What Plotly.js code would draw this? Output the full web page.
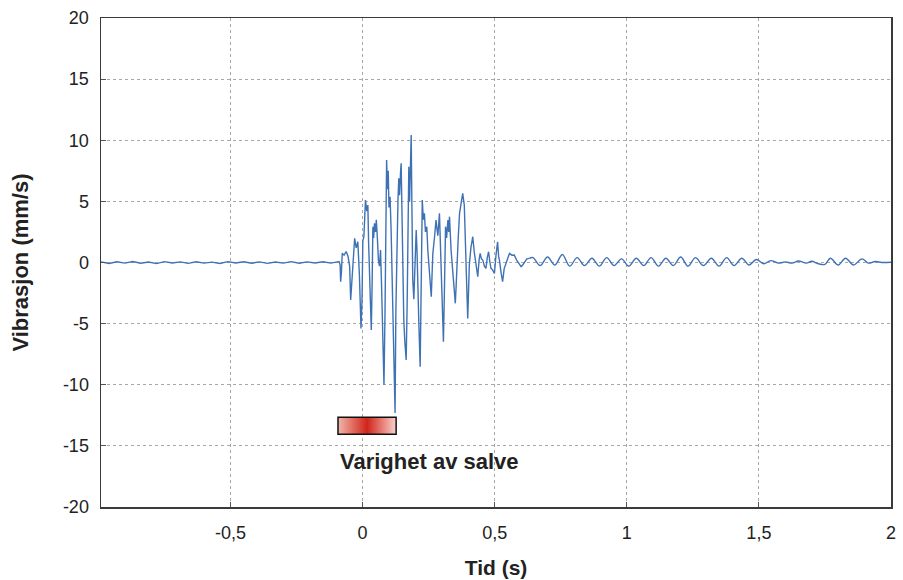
<!DOCTYPE html>
<html>
<head>
<meta charset="utf-8">
<script src="https://cdn.plot.ly/plotly-3.0.1.min.js"></script>
<style>html,body{margin:0;padding:0;background:#fff}#chart{width:903px;height:580px}</style>
</head>
<body>
<div id="chart"></div>
<script>
// Pre-trigger (quiet) segment
var tPre = [-0.99,-0.96,-0.93,-0.90,-0.87,-0.84,-0.81,-0.78,-0.75,-0.72,-0.69,-0.66,-0.63,-0.60,-0.57,-0.54,-0.51,-0.48,-0.45,-0.42,-0.39,-0.36,-0.33,-0.30,-0.27,-0.24,-0.21,-0.18,-0.15,-0.12,-0.095];
var vPre = [0.05,-0.08,0.06,-0.05,0.08,-0.06,0.04,-0.09,0.07,-0.04,0.05,-0.07,0.06,-0.05,0.03,-0.08,0.07,-0.04,0.06,-0.06,0.05,-0.07,0.04,-0.05,0.07,-0.06,0.05,-0.04,0.06,-0.05,0.05];

// Blast burst segment
var tBurst = [-0.089,-0.085,-0.083,-0.080,-0.077,-0.070,-0.062,-0.055,-0.049,-0.045,-0.040,-0.034,-0.030,-0.024,-0.018,-0.012,-0.006,-0.002,0.001,0.005,0.008,0.011,0.016,0.020,0.023,0.026,0.030,0.033,0.036,0.039,0.042,0.045,0.049,0.052,0.056,0.060,0.064,0.068,0.072,0.077,0.081,0.085,0.088,0.091,0.094,0.097,0.100,0.104,0.108,0.112,0.116,0.120,0.123,0.126,0.130,0.134,0.137,0.140,0.144,0.146,0.150,0.152,0.156,0.160,0.165,0.169,0.172,0.175,0.178,0.184,0.187,0.190,0.194,0.198,0.203,0.206,0.209,0.213,0.218,0.222,0.226,0.230,0.234,0.238,0.243,0.247,0.253,0.256,0.260,0.263,0.266,0.272,0.278,0.282,0.285,0.291,0.294,0.297,0.302,0.306,0.310,0.314,0.318,0.323,0.326,0.329,0.335,0.341,0.346,0.351,0.354,0.358,0.362,0.367,0.373,0.379,0.385,0.389,0.392,0.395,0.398,0.401,0.404,0.410,0.417,0.423,0.430,0.436,0.441,0.445,0.450,0.455,0.461,0.467,0.472,0.477,0.482,0.486,0.492,0.499,0.505,0.511,0.515,0.518,0.524,0.530,0.536,0.543,0.550,0.556,0.565,0.574,0.583,0.593,0.600,0.606,0.615,0.622,0.631];
var vBurst = [0.07,-0.2,-1.57,-0.8,0.75,0.6,0.9,0.5,-0.3,-3.07,-1.5,0.9,1.98,1.2,1.7,-1.0,-5.4,-3.0,1.8,2.11,3.5,5.11,4.2,4.7,1.5,-0.61,-3.5,-5.52,-2.0,2.93,2.0,3.2,2.5,3.5,2.0,0.2,-0.3,1.02,-2.0,-6.0,-10.0,-4.0,2.0,8.38,6.0,7.5,4.5,5.38,2.66,-1.43,-6.0,-9.0,-12.3,-4.0,2.5,5.11,6.88,5.5,7.5,8.11,3.0,-1.0,-4.7,-6.5,-7.97,-3.0,2.0,7.84,5.0,10.43,4.0,-1.43,-3.0,0.5,2.66,1.0,-0.89,-5.0,-8.52,-2.0,5.11,3.5,4.02,2.5,2.93,1.0,-0.5,-1.5,-2.8,-1.0,0.75,2.0,3.48,2.66,2.2,4.02,1.5,-0.61,-4.0,-6.48,-2.0,2.93,2.0,3.48,2.5,3.75,1.0,-0.89,-2.5,-3.34,-2.0,0.75,2.0,4.02,4.8,5.66,4.7,1.0,-0.61,-2.5,-4.57,-2.0,-0.2,1.2,2.11,0.8,-0.34,-1.16,0.2,0.75,0.3,0.2,-0.3,-0.48,0.4,0.88,0.0,-0.48,-0.6,-0.89,0.6,1.7,0.5,0.2,-0.8,-1.57,-0.5,-0.07,0.5,0.75,0.6,0.61,0.2,-0.07,-0.34,-0.2,0.1,0.3,0.34];

// Decaying tail segment
var tTail = [0.631,0.645,0.672,0.700,0.728,0.756,0.784,0.812,0.840,0.868,0.896,0.924,0.952,0.980,1.008,1.036,1.064,1.092,1.120,1.148,1.176,1.204,1.232,1.260,1.290,1.320,1.349,1.378,1.406,1.435,1.463,1.490,1.518,1.545,1.575,1.600,1.625,1.650,1.680,1.700,1.725,1.750,1.771,1.800,1.828,1.858,1.890,1.915,1.940,1.965,2.0];
var vTail = [0.34,0.40,-0.25,0.45,-0.20,0.65,-0.30,0.40,-0.25,0.35,-0.30,0.40,-0.25,0.30,-0.30,0.35,-0.25,0.40,-0.30,0.35,-0.25,0.45,-0.30,0.40,-0.25,0.35,-0.30,0.40,-0.25,0.35,-0.20,0.25,-0.10,0.15,-0.05,0.05,-0.05,0.12,-0.05,0.10,-0.10,-0.15,0.35,-0.20,0.35,-0.20,0.30,-0.05,0.08,0.0,0.02];

var xTickVals = [-0.5, 0, 0.5, 1, 1.5, 2];
var xTickText = ['-0,5', '0', '0,5', '1', '1,5', '2'];
var yTickVals = [-20, -15, -10, -5, 0, 5, 10, 15, 20];
var yTickText = ['-20', '-15', '-10', '-5', '0', '5', '10', '15', '20'];

var xTitle = 'Tid (s)';
var yTitle = 'Vibrasjon (mm/s)';
var burstLabel = 'Varighet av salve';
var burstStart = -0.093, burstEnd = 0.127;
var barTop = -12.66, barBottom = -14.05;

var font = 'Liberation Sans, Arial, sans-serif';
var lineStyle = {color: '#3f72b5', width: 1.4};

var svg = '<svg xmlns="http://www.w3.org/2000/svg" width="100" height="20" preserveAspectRatio="none">' +
  '<defs><linearGradient id="g" x1="0" x2="1" y1="0" y2="0">' +
  '<stop offset="0" stop-color="#f2b6aa"/>' +
  '<stop offset="0.5" stop-color="#d0251b"/>' +
  '<stop offset="1" stop-color="#f8d2cc"/>' +
  '</linearGradient></defs><rect width="100" height="20" fill="url(#g)"/></svg>';

var traces = [
  {x: tPre.concat(tBurst), y: vPre.concat(vBurst), type: 'scatter', mode: 'lines', line: lineStyle, hoverinfo: 'skip'},
  {x: tTail, y: vTail, type: 'scatter', mode: 'lines', line: Object.assign({shape: 'spline', smoothing: 1}, lineStyle), hoverinfo: 'skip'}
];

var gridColor = '#a8a8a8';
var layout = {
  width: 903, height: 580,
  margin: {l: 101, r: 12, t: 18, b: 73},
  paper_bgcolor: '#fff', plot_bgcolor: '#fff',
  showlegend: false,
  font: {family: font, size: 18, color: '#222'},
  xaxis: {
    range: [-0.99, 2], tickvals: xTickVals, ticktext: xTickText,
    showgrid: true, gridcolor: gridColor, griddash: 'dot', gridwidth: 1,
    zeroline: false, showline: true, linecolor: '#3a3a3a', linewidth: 1.5, mirror: true,
    ticks: 'inside', ticklen: 5, tickcolor: '#555',
    ticklabelstandoff: 9,
    tickfont: {family: font, size: 18, color: '#222'},
    title: {text: '<b>' + xTitle + '</b>', font: {family: font, size: 21, color: '#222'}, standoff: 18}
  },
  yaxis: {
    range: [-20, 20], tickvals: yTickVals, ticktext: yTickText,
    showgrid: true, gridcolor: gridColor, griddash: 'dot', gridwidth: 1,
    zeroline: false, showline: true, linecolor: '#3a3a3a', linewidth: 1.5, mirror: true,
    ticks: 'inside', ticklen: 5, tickcolor: '#555',
    ticklabelstandoff: 7,
    tickfont: {family: font, size: 18, color: '#222'},
    title: {text: '<b>' + yTitle + '</b>', font: {family: font, size: 22, color: '#222'}, standoff: 28}
  },
  images: [{
    source: 'data:image/svg+xml;charset=utf-8,' + encodeURIComponent(svg),
    xref: 'x', yref: 'y', x: burstStart, y: barTop,
    sizex: burstEnd - burstStart, sizey: barTop - barBottom,
    xanchor: 'left', yanchor: 'top', sizing: 'stretch', layer: 'above'
  }],
  shapes: [{
    type: 'rect', xref: 'x', yref: 'y',
    x0: burstStart, x1: burstEnd, y0: barBottom, y1: barTop,
    line: {color: '#111', width: 1.5}, fillcolor: 'rgba(0,0,0,0)', layer: 'above'
  }],
  annotations: [{
    xref: 'x', yref: 'y', x: burstStart, y: -16.3,
    xanchor: 'left', yanchor: 'middle', showarrow: false,
    text: '<b>' + burstLabel + '</b>',
    font: {family: font, size: 22, color: '#222'}
  }]
};

Plotly.newPlot('chart', traces, layout, {displayModeBar: false, staticPlot: true});
</script>
</body>
</html>
